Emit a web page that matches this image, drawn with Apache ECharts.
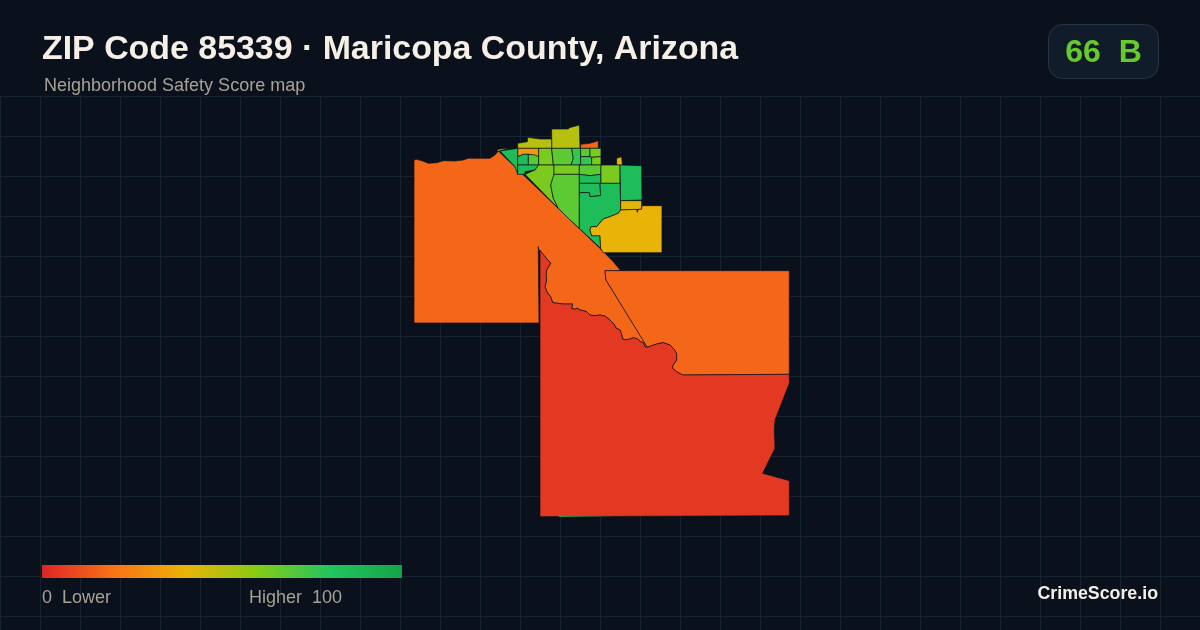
<!DOCTYPE html>
<html><head><meta charset="utf-8">
<style>html,body{margin:0;padding:0;background:#0a111c}#c{width:1200px;height:630px}</style>
<script src="https://cdn.jsdelivr.net/npm/echarts@6/dist/echarts.min.js"></script>
</head><body><div id="c"></div>
<script>
const titleText = 'ZIP Code 85339 · Maricopa County, Arizona';
const subtitleText = 'Neighborhood Safety Score map';
const badgeText = '66  B';
const brandText = 'CrimeScore.io';
const legendLow = '0  Lower';
const legendHigh = 'Higher  100';
const scaleColors = ['#dc2626','#f97316','#eab308','#84cc16','#22c55e','#16a34a'];

// Tract outlines in three local sheets
const north = o => o.map(([x,y]) => [490+x/3, 115+y/3]);
const mid   = o => o.map(([x,y]) => [530+x/3, 240+y/3]);
const south = o => o.map(([x,y]) => [530+x/3, 370+y/3]);

const riverEdge = mid([[352,322],[345,320],[340,308],[332,305],[322,297],[310,293],[297,298],[285,299],[278,297],[274,280],[270,270],[258,264],[252,252],[240,240],[225,228],[210,225],[195,227],[180,225],[170,215],[160,212],[150,210],[143,205],[135,208],[125,205],[128,192],[100,192],[68,188],[62,170],[52,158],[45,140],[50,120],[48,105],[50,90],[62,70],[45,50],[27,30]]);
const eastEdge = mid([[352,322],[380,312],[400,308],[420,315],[433,328],[440,342],[440,360],[428,378],[428,385],[440,395],[458,405],[470,405]]);

const regionNames = ['West','East','South','SouthSliver','NorthBlock','NorthWestBlock','WestStrip','NorthOrange','NorthGold','GoldPocket','WestGreen','RingLeft','RingRight','RingBelow','Lime1','LimeDiagonal','Mid1','Mid2','Small1','Small2','Small3','Small4','Band1','Tall1','Band2','Band3','Square1','Step1','EastGreen','BigGreen','YellowBand','BigYellow'];
const regionScores = [17,17,5,82,50,50,50,17,42,32,85,85,70,85,62,62,68,76,68,62,76,62,62,68,68,85,62,85,85,85,42,40];
const regionRings = [
  [[414,160],[416.7,159.3],[421.7,160.7],[428.3,163.3],[436.7,162.7],[443.3,160.7],[455,161],[463.3,160],[468.3,158.3],[480,158.3],[490,158.3],[495,155],[498.3,151],[499.3,151.7],[601.7,250],[613.3,261.7],[620.7,270.7],[605,270.7],[606,280],[647.3,346.7],...riverEdge,[538.3,246.7],[539,323],[414,323]],
  [[605,270.7],[789.3,270.7],[789.3,374.3],...eastEdge.slice().reverse(),[606,280]],
  [[540,250],...riverEdge.slice().reverse(),...eastEdge.slice(1),[789.3,374.3],...south([[778,40],[735,150],[733,180],[735,235],[698,310],[778,332],[778,437],[30,440]])],
  [[559,516],[618,516],[618,516.7],[559,516.7]],
  north([[185,42],[235,42],[238,38],[268,30],[270,100],[185,100]]),
  north([[83,85],[112,80],[113,67],[150,72],[185,72],[185,100],[83,100]]),
  north([[22,103],[60,100],[30,108],[22,108]]),
  north([[272,88],[300,85],[325,77],[325,100],[272,100]]),
  north([[380,130],[395,125],[397,150],[380,150]]),
  north([[83,100],[146,100],[146,125],[120,118],[100,118],[83,125]]),
  north([[30,108],[83,100],[83,178],[75,155]]),
  north([[83,125],[100,118],[115,118],[115,150],[83,150]]),
  north([[115,118],[135,120],[146,125],[146,150],[115,150]]),
  north([[83,150],[146,150],[135,165],[105,170],[105,178],[83,178]]),
  north([[146,100],[185,100],[190,150],[146,150]]),
  north([[146,150],[192,150],[192,180],[182,210],[190,250],[205,280],[105,178],[135,165]]),
  north([[185,100],[245,100],[250,130],[243,150],[190,150]]),
  north([[245,100],[272,100],[272,150],[243,150],[250,130]]),
  north([[272,100],[300,100],[300,125],[272,125]]),
  north([[300,100],[333,100],[333,125],[305,127],[300,125]]),
  north([[272,125],[300,125],[305,127],[305,150],[272,150]]),
  north([[305,127],[333,125],[333,150],[305,150]]),
  north([[192,150],[268,150],[268,178],[192,178]]),
  north([[192,178],[268,178],[268,340],[235,310],[205,280],[190,250],[182,210]]),
  north([[268,150],[333,150],[333,178],[300,182],[268,178]]),
  north([[268,178],[300,182],[333,178],[333,205],[268,205]]),
  north([[333,150],[390,150],[390,205],[333,205]]),
  north([[268,205],[330,205],[332,242],[300,245],[298,233],[268,233]]),
  north([[390,150],[455,152],[456,255],[392,257]]),
  north([[268,233],[298,233],[300,245],[332,242],[330,205],[390,205],[392,285],[385,295],[360,305],[340,312],[320,335],[303,335],[300,345],[305,362],[330,362],[332,400],[268,340]]),
  north([[392,257],[455,257],[455,283],[392,285]]),
  north([[392,285],[440,283],[442,292],[445,283],[455,283],[456,272],[516,272],[516,413],[340,413],[332,400],[330,362],[305,362],[300,345],[303,335],[320,335],[340,312],[360,305],[385,295]])
];

const geoJson = {
  type: 'FeatureCollection',
  features: regionNames.map((name, i) => ({
    type: 'Feature',
    properties: { name },
    geometry: { type: 'Polygon', coordinates: [regionRings[i].map(([x, y]) => [x, -y])] }
  }))
};
echarts.registerMap('zip85339', geoJson);

const gridLines = [];
for (let x = 0; x <= 1200; x += 40) gridLines.push({ type:'line', silent:true, shape:{x1:x+.5,y1:96,x2:x+.5,y2:630}, style:{stroke:'#15242f',lineWidth:1} });
for (let y = 96; y <= 630; y += 40) gridLines.push({ type:'line', silent:true, shape:{x1:0,y1:y+.5,x2:1200,y2:y+.5}, style:{stroke:'#15242f',lineWidth:1} });

const font = '"Liberation Sans", Arial, sans-serif';
const txt = (x, y, text, size, weight, fill, align) => ({
  type:'text', silent:true, x, y,
  style:{ text, fontFamily:font, fontSize:size, fontWeight:weight, fill, textAlign:align||'left', textVerticalAlign:'middle' }
});

const chart = echarts.init(document.getElementById('c'), null, { renderer:'canvas', width:1200, height:630 });
chart.setOption({
  backgroundColor:'#0a111c',
  animation:false,
  graphic:{ elements:[
    ...gridLines,
    txt(42, 50, titleText, 33.9, 'bold', '#f5efe6'),
    txt(44, 86, subtitleText, 18, 'normal', '#a8a294'),
    { type:'rect', silent:true, shape:{x:1048.5,y:24.5,width:110,height:54,r:14}, style:{fill:'#111c2a',stroke:'#263443',lineWidth:1} },
    txt(1103.5, 53, badgeText, 32, 'bold', '#66ca2b', 'center'),
    { type:'rect', silent:true, shape:{x:42,y:565,width:360,height:13},
      style:{ fill: new echarts.graphic.LinearGradient(0,0,1,0, scaleColors.map((color,i)=>({offset:i/(scaleColors.length-1),color}))) } },
    txt(42, 598, legendLow, 18, 'normal', '#a8a294'),
    txt(249, 598, legendHigh, 18, 'normal', '#a8a294'),
    txt(1158, 594, brandText, 17.8, 'bold', '#f5efe6', 'right')
  ]},
  visualMap:{
    show:false, type:'continuous', min:0, max:100, seriesIndex:0,
    inRange:{ color:scaleColors }
  },
  series:[{
    type:'map', map:'zip85339', roam:false, silent:true, aspectScale:1,
    left:414, top:125, width:375.3, height:391.7,
    label:{show:false},
    itemStyle:{ borderColor:'rgba(10,17,28,0.85)', borderWidth:0.8 },
    emphasis:{disabled:true}, select:{disabled:true},
    data: regionNames.map((name,i)=>{
      const d = { name, value: regionScores[i] };
      if (name === 'SouthSliver') d.itemStyle = { borderWidth:0 };
      return d;
    })
  }]
});
</script></body></html>
